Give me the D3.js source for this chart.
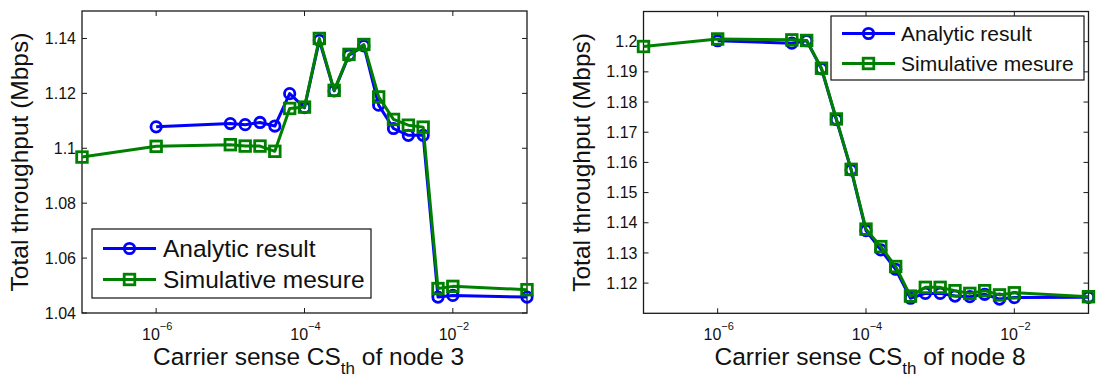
<!DOCTYPE html>
<html>
<head>
<meta charset="utf-8">
<script src="https://cdn.jsdelivr.net/npm/d3@7"></script>
<style>
  html, body { margin: 0; padding: 0; background: #fff; }
  svg { display: block; font-family: "Liberation Sans", Arial, Helvetica, sans-serif; }
</style>
</head>
<body>
<svg id="chart" width="1096" height="379"></svg>
<script>
// carrier sense threshold values (x axis, log scale)
var CS_VALUES = [1e-7, 1e-6, 1e-5, 1.585e-5, 2.512e-5, 3.981e-5, 6.310e-5, 1e-4,
  1.585e-4, 2.512e-4, 3.981e-4, 6.310e-4, 1e-3, 1.585e-3, 2.512e-3, 3.981e-3,
  6.310e-3, 1e-2, 1e-1];

// node 3 throughput (Mbps)
var NODE3_ANALYTIC = [null, 1.1078, 1.1090, 1.1086, 1.1094, 1.1081, 1.1199, 1.1148,
  1.1393, 1.1209, 1.1339, 1.1373, 1.1157, 1.1072, 1.1047, 1.1047, 1.0458, 1.0464, 1.0458];
var NODE3_SIMUL = [1.0968, 1.1007, 1.1013, 1.1008, 1.1008, 1.0989, 1.1145, 1.1150,
  1.1400, 1.1211, 1.1342, 1.1378, 1.1187, 1.1105, 1.1084, 1.1077, 1.0489, 1.0497, 1.0485];

// node 8 throughput (Mbps)
var NODE8_ANALYTIC = [null, 1.2003, 1.1995, 1.2003, 1.1910, 1.1742, 1.1575, 1.1374,
  1.1310, 1.1246, 1.1150, 1.1166, 1.1166, 1.1157, 1.1155, 1.1163, 1.1147, 1.1152, 1.1153];
var NODE8_SIMUL = [1.1984, 1.2009, 1.2006, 1.2004, 1.1912, 1.1744, 1.1577, 1.1379,
  1.1321, 1.1255, 1.1157, 1.1186, 1.1186, 1.1175, 1.1166, 1.1175, 1.1161, 1.1168, 1.1155];

var X_TICKS = [1e-6, 1e-4, 1e-2];
var X_TICK_EXP = ['\u22126', '\u22124', '\u22122'];
var Y_TICKS_3 = [1.04, 1.06, 1.08, 1.1, 1.12, 1.14];
var Y_TICKS_8 = [1.12, 1.13, 1.14, 1.15, 1.16, 1.17, 1.18, 1.19, 1.2];
var SERIES_NAMES = ['Analytic result', 'Simulative mesure'];

var BLUE = '#0000ff';
var GREEN = '#008000';
var TICK_LEN = 5;

var $svg = d3.select('#chart');

function drawPanel (cfg) {
  var x = d3.scaleLog().domain([1e-7, 1e-1]).range([cfg.left, cfg.right]);
  var y = d3.scaleLinear().domain(cfg.yDomain).range([cfg.bottom, cfg.top]);
  var g = $svg.append('g');

  // axis box
  g.append('rect')
    .attr('x', cfg.left).attr('y', cfg.top)
    .attr('width', cfg.right - cfg.left).attr('height', cfg.bottom - cfg.top)
    .attr('fill', 'none').attr('stroke', '#1a1a1a').attr('stroke-width', 1.3);

  // x ticks (inward, top and bottom)
  X_TICKS.forEach(function (t, i) {
    var px = x(t);
    g.append('line').attr('x1', px).attr('x2', px)
      .attr('y1', cfg.bottom).attr('y2', cfg.bottom - TICK_LEN)
      .attr('stroke', '#1a1a1a').attr('stroke-width', 1);
    g.append('line').attr('x1', px).attr('x2', px)
      .attr('y1', cfg.top).attr('y2', cfg.top + TICK_LEN)
      .attr('stroke', '#1a1a1a').attr('stroke-width', 1);
    var lbl = g.append('text')
      .attr('x', px + 1).attr('y', cfg.bottom + 26.5)
      .attr('text-anchor', 'middle')
      .attr('font-size', 16).attr('fill', '#111');
    lbl.append('tspan').text('10');
    lbl.append('tspan').attr('dy', -10).attr('font-size', 11).text(X_TICK_EXP[i]);
  });

  // y ticks (inward, left and right)
  cfg.yTicks.forEach(function (t) {
    var py = y(t);
    g.append('line').attr('x1', cfg.left).attr('x2', cfg.left + TICK_LEN)
      .attr('y1', py).attr('y2', py)
      .attr('stroke', '#1a1a1a').attr('stroke-width', 1);
    g.append('line').attr('x1', cfg.right).attr('x2', cfg.right - TICK_LEN)
      .attr('y1', py).attr('y2', py)
      .attr('stroke', '#1a1a1a').attr('stroke-width', 1);
    g.append('text')
      .attr('x', cfg.left - 6).attr('y', py).attr('dy', '0.35em')
      .attr('text-anchor', 'end')
      .attr('font-size', 16).attr('fill', '#111')
      .text(d3.format('~g')(t));
  });

  // axis labels
  var xl = g.append('text')
    .attr('x', (cfg.left + cfg.right) / 2 + 4).attr('y', cfg.bottom + 52)
    .attr('text-anchor', 'middle').attr('font-size', 24.5).attr('fill', '#111');
  xl.append('tspan').text('Carrier sense CS');
  xl.append('tspan').attr('dy', 9).attr('font-size', 17).text('th');
  xl.append('tspan').attr('dy', -9).text(' of node ' + cfg.node);

  g.append('text')
    .attr('transform', 'translate(' + (cfg.left - 54) + ',' + ((cfg.top + cfg.bottom) / 2) + ') rotate(-90)')
    .attr('text-anchor', 'middle').attr('font-size', 24.5).attr('fill', '#111')
    .text('Total throughput (Mbps)');

  // series
  var line = d3.line()
    .defined(function (d) { return d[1] !== null; })
    .x(function (d) { return x(d[0]); })
    .y(function (d) { return y(d[1]); });

  function series (values, color, marker) {
    var pts = CS_VALUES.map(function (v, i) { return [v, values[i]]; });
    g.append('path').datum(pts)
      .attr('d', line).attr('fill', 'none')
      .attr('stroke', color).attr('stroke-width', 3).attr('stroke-linejoin', 'round');
    var valid = pts.filter(function (d) { return d[1] !== null; });
    if (marker === 'circle') {
      g.selectAll(null).data(valid).enter().append('circle')
        .attr('cx', function (d) { return x(d[0]); })
        .attr('cy', function (d) { return y(d[1]); })
        .attr('r', 5.2).attr('fill', 'none')
        .attr('stroke', color).attr('stroke-width', 2.8);
    } else {
      g.selectAll(null).data(valid).enter().append('rect')
        .attr('x', function (d) { return x(d[0]) - 5.3; })
        .attr('y', function (d) { return y(d[1]) - 5.3; })
        .attr('width', 10.6).attr('height', 10.6).attr('fill', 'none')
        .attr('stroke', color).attr('stroke-width', 2.8);
    }
  }
  series(cfg.analytic, BLUE, 'circle');
  series(cfg.simul, GREEN, 'square');

  // legend
  var L = cfg.legend;
  g.append('rect')
    .attr('x', L.x).attr('y', L.y).attr('width', L.w).attr('height', L.h)
    .attr('fill', '#fff').attr('stroke', '#111').attr('stroke-width', 1.2);
  [[BLUE, 'circle'], [GREEN, 'square']].forEach(function (s, i) {
    var ry = L.y + L.row0 + i * L.rowGap;
    var lx = L.x + 11;
    g.append('line').attr('x1', lx).attr('x2', lx + 53)
      .attr('y1', ry).attr('y2', ry)
      .attr('stroke', s[0]).attr('stroke-width', 3);
    if (s[1] === 'circle') {
      g.append('circle').attr('cx', lx + 26.5).attr('cy', ry).attr('r', 5.2)
        .attr('fill', 'none').attr('stroke', s[0]).attr('stroke-width', 2.8);
    } else {
      g.append('rect').attr('x', lx + 26.5 - 5.3).attr('y', ry - 5.3)
        .attr('width', 10.6).attr('height', 10.6)
        .attr('fill', 'none').attr('stroke', s[0]).attr('stroke-width', 2.8);
    }
    g.append('text')
      .attr('x', lx + L.textOff).attr('y', ry).attr('dy', '0.36em')
      .attr('font-size', L.font).attr('fill', '#111')
      .text(SERIES_NAMES[i]);
  });
}

drawPanel({
  node: 3,
  left: 82, right: 527, top: 11, bottom: 313,
  yDomain: [1.04, 1.15], yTicks: Y_TICKS_3,
  analytic: NODE3_ANALYTIC, simul: NODE3_SIMUL,
  legend: { x: 92, y: 229, w: 279, h: 69, row0: 19.5, rowGap: 31, font: 24.5, textOff: 60 }
});

drawPanel({
  node: 8,
  left: 643.5, right: 1088.5, top: 11.5, bottom: 313.3,
  yDomain: [1.11, 1.21], yTicks: Y_TICKS_8,
  analytic: NODE8_ANALYTIC, simul: NODE8_SIMUL,
  legend: { x: 831, y: 16, w: 253, h: 64, row0: 17.5, rowGap: 30, font: 21, textOff: 59 }
});
</script>
</body>
</html>
